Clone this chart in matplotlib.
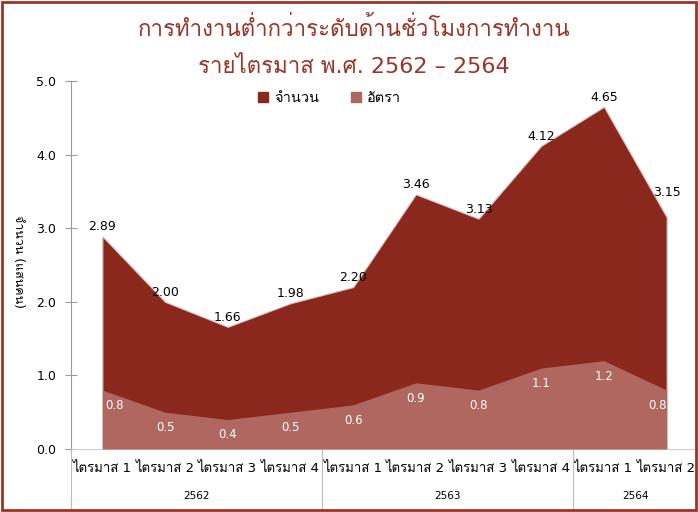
import matplotlib
matplotlib.use("Agg")
import matplotlib.pyplot as plt
from matplotlib import font_manager
from matplotlib.ft2font import FT2Font
from matplotlib.patches import Rectangle
import matplotlib.transforms as mtransforms

quarters = ["ไตรมาส 1", "ไตรมาส 2", "ไตรมาส 3", "ไตรมาส 4",
            "ไตรมาส 1", "ไตรมาส 2", "ไตรมาส 3", "ไตรมาส 4",
            "ไตรมาส 1", "ไตรมาส 2"]
years = ["2562", "2563", "2564"]
year_sizes = [4, 4, 2]
amount = [2.89, 2.00, 1.66, 1.98, 2.20, 3.46, 3.13, 4.12, 4.65, 3.15]
rate = [0.8, 0.5, 0.4, 0.5, 0.6, 0.9, 0.8, 1.1, 1.2, 0.8]


def find_thai_font():
    seen = set()
    for f in font_manager.fontManager.ttflist:
        if f.fname in seen:
            continue
        seen.add(f.fname)
        try:
            if ord("ก") in FT2Font(f.fname).get_charmap():
                return f.name
        except Exception:
            pass
    return None


thai = find_thai_font()
families = ["DejaVu Sans"]
if thai:
    families.append(thai)
plt.rcParams["font.family"] = families

dark = "#8B281E"
light = "#B0675F"
title_col = "#9A3428"
grey = "#9a9a9a"

fig = plt.figure(figsize=(6.98, 5.12), dpi=100)
ax = fig.add_axes([71 / 698, 63 / 512, 1 - 71 / 698, (449 - 81) / 512])

x = list(range(len(amount)))
ax.fill_between(x, amount, color=dark, edgecolor="#d8c4c1", linewidth=0.8, zorder=2)
ax.fill_between(x, rate, color=light, linewidth=0, zorder=3)

# label placement (Excel nudges the last label up to clear the edge)
last = len(x) - 1
for i in x:
    up = 0.24 if i == last else 0.04
    ax.text(i, amount[i] + up, f"{amount[i]:.2f}", ha="center", va="bottom",
            fontsize=9, color="black", zorder=5)
    if i == 0:
        xi, ha = i + 0.05, "left"
    elif i == last:
        xi, ha = i, "right"
    else:
        xi, ha = i, "center"
    ax.text(xi, rate[i] - 0.12, f"{rate[i]:.1f}", ha=ha, va="top",
            fontsize=8.5, color="white", zorder=5)

ax.set_xlim(-0.5, len(amount) - 0.5)
ax.set_ylim(0, 5)
ax.set_yticks([0, 1, 2, 3, 4, 5])
ax.set_yticklabels([f"{v:.1f}" for v in [0, 1, 2, 3, 4, 5]], fontsize=9)
ax.tick_params(axis="y", direction="inout", length=9, color=grey, pad=6)
ax.set_xticks(x)
ax.set_xticklabels(quarters, fontsize=9.5)
ax.tick_params(axis="x", length=0, pad=9)

for s in ["top", "right"]:
    ax.spines[s].set_visible(False)
ax.spines["left"].set_color(grey)
ax.spines["bottom"].set_color("#cccccc")

ax.set_ylabel("จำนวน (แสนคน)", rotation=270, fontsize=9, labelpad=-4)
ax.yaxis.set_label_coords(-0.094, 0.51)

# category table under the axis
trans = mtransforms.blended_transform_factory(ax.transData, ax.transAxes)
edge = -0.5
for name, size in zip(years, year_sizes):
    ax.plot([edge, edge], [0, -0.16], transform=trans, color="#bbbbbb",
            linewidth=0.8, clip_on=False)
    ax.text(edge + size / 2, -0.128, name, transform=trans, ha="center",
            va="center", fontsize=7.5)
    edge += size

leg_handles = [Rectangle((0, 0), 1, 1, color=dark), Rectangle((0, 0), 1, 1, color=light)]
fig.legend(leg_handles, ["จำนวน", "อัตรา"], loc="center", bbox_to_anchor=(0.472, 0.809),
           ncol=2, frameon=False, fontsize=10.5, handlelength=0.7, handleheight=0.7,
           handletextpad=0.4, columnspacing=2.2)

fig.text(0.507, 0.945, "การทำงานต่ำกว่าระดับด้านชั่วโมงการทำงาน", ha="center",
         va="center", fontsize=16, color=title_col)
fig.text(0.507, 0.871, "รายไตรมาส พ.ศ. 2562 – 2564", ha="center", va="center",
         fontsize=16, color=title_col)

fig.patches.append(Rectangle((0.003, 0.004), 0.994, 0.992, transform=fig.transFigure,
                             fill=False, edgecolor="#9A3428", linewidth=2))

fig.savefig("out.png", dpi=100)
